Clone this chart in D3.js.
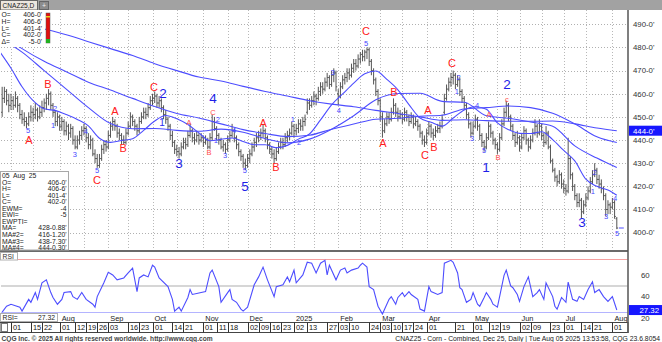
<!DOCTYPE html>
<html><head><meta charset="utf-8">
<script src="https://cdn.jsdelivr.net/npm/d3@7/dist/d3.min.js"></script>
<style>
html,body{margin:0;padding:0;background:#fff;}
svg{display:block;font-family:"Liberation Sans",Arial,sans-serif;}
text{white-space:pre;}
</style></head><body>
<svg id="chart" width="662" height="342"></svg>
<script>
// ---- trading calendar (CBOT corn, daily sessions) ----
const firstSession = '2024-06-25';
const lastSession = '2025-08-05';
const holidays = ['2024-07-04','2024-09-02','2024-11-28','2024-12-25','2025-01-01','2025-01-09',
  '2025-01-20','2025-02-17','2025-04-18','2025-05-26','2025-06-19','2025-07-04'];

// ---- daily bars [open, high, low, close], cents/bu ----
const jun24 = [[452,463,450,458],[458,463,456,461],[461,462,455,457],[457,460,452,455]];
const jul24 = [
[455,460,453,457],[457,459,453,455],[455,461,454,458],[458,459,452,455],[455,456,449,451],
[451,453,447,449],[449,452,446,448],[448,450,445,447],[447,452,446,450],[450,455,448,452],
[452,454,448,451],[451,456,449,453],[453,454,448,450],[450,455,449,452],[452,457,450,454],
[454,458,452,456],[456,460,453,458],[458,462,455,460],[460,461,453,455],[455,456,450,452],
[452,453,446,448],[448,452,446,450]];
const aug24 = [
[450,451,444,446],[446,450,444,448],[448,449,442,444],[444,448,442,446],[446,447,440,443],
[443,447,441,445],[445,446,438,440],[440,442,436,437],[437,442,436,440],[440,444,438,442],
[442,446,440,444],[444,447,442,445],[445,446,439,441],[441,443,436,438],[438,442,436,440],
[440,441,433,434],[434,436,430,432],[432,434,428,429],[429,434,428,432],[432,438,431,436],
[436,440,434,438],[438,440,435,437]];
const sep24 = [
[437,444,436,442],[442,448,441,446],[446,450,444,448],[448,449,444,446],[446,447,441,443],
[443,445,440,442],[442,443,438,440],[440,442,438,439],[439,445,438,443],[443,448,442,446],
[446,452,445,450],[450,451,446,448],[448,449,444,446],[446,447,442,444],[444,450,443,448],
[448,452,447,450],[450,454,449,452],[452,454,449,451],[451,456,450,454],[454,459,453,457]];
const oct24 = [
[457,460,455,458],[458,461,456,459],[459,460,454,456],[456,459,454,457],[457,458,452,454],
[454,455,449,451],[451,453,447,449],[449,450,444,446],[446,447,440,442],[442,444,437,439],
[439,440,434,436],[436,438,433,435],[435,437,432,434],[434,439,433,437],[437,441,436,439],
[439,441,436,438],[438,444,437,442],[442,447,441,444],[444,445,439,441],[441,443,438,440],
[440,444,439,442],[442,443,438,440],[440,443,439,441]];
const nov24 = [
[441,442,437,439],[439,442,438,440],[440,441,436,437],[437,443,436,441],[441,451,440,448],
[448,450,444,445],[445,446,440,442],[442,443,438,440],[440,441,436,437],[437,440,435,438],
[438,439,434,436],[436,442,435,440],[440,444,439,442],[442,447,441,444],[444,445,439,441],
[441,442,436,438],[438,439,433,435],[435,436,431,433],[433,434,428,430],[430,432,427,429]];
const dec24 = [
[429,434,428,432],[432,436,430,434],[434,439,433,437],[437,441,435,439],[439,443,437,441],
[441,444,439,442],[442,445,440,443],[443,447,441,444],[444,445,439,441],[441,442,436,438],
[438,439,434,436],[436,437,432,434],[434,436,430,432],[432,437,431,435],[435,439,434,437],
[437,441,436,439],[439,441,436,438],[438,443,437,441],[441,444,439,442],[442,445,440,443],
[443,448,442,446]];
const jan25 = [
[446,447,441,444],[444,447,442,445],[445,449,443,447],[447,449,444,446],[446,450,444,448],
[448,451,446,449],[452,458,451,456],[456,458,453,455],[455,459,454,457],[457,461,455,459],
[459,460,455,458],[458,463,457,461],[461,465,459,463],[463,465,460,462],[462,467,461,465],
[465,469,463,467],[467,468,462,464],[464,470,463,468],[468,471,465,469],[469,470,461,463]];
const feb25 = [
[460,462,455,459],[459,465,458,463],[463,468,462,466],[466,469,464,467],[467,471,465,469],
[469,471,466,468],[468,473,467,471],[471,475,469,473],[473,475,470,472],[472,477,471,475],
[475,478,473,477],[477,479,474,476],[476,479,474,478],[478,480,475,479],[479,480,472,474],
[474,475,468,470],[470,471,464,466],[466,467,459,461],[461,462,455,457]];
const mar25 = [
[457,458,448,450],[450,452,441,444],[444,449,443,447],[447,452,446,450],[450,452,447,449],
[449,454,448,452],[452,458,451,455],[455,456,450,452],[452,454,448,450],[450,453,449,451],
[451,452,447,449],[449,454,448,452],[452,453,448,450],[450,451,446,448],[448,452,447,450],
[450,451,445,447],[447,450,446,448],[448,449,444,446],[446,447,441,443],[443,444,438,440],
[440,442,437,439]];
const apr25 = [
[439,445,438,443],[443,448,442,446],[446,447,441,443],[443,445,440,442],[442,446,441,444],
[444,447,443,445],[445,448,443,446],[446,451,445,449],[452,460,451,458],[458,464,457,462],
[462,467,461,465],[465,469,463,467],[467,470,464,468],[468,469,462,464],[464,468,463,466],
[466,467,459,461],[461,462,456,458],[458,459,453,455],[455,456,449,451],[451,452,445,447],
[447,448,441,443]];
const may25 = [
[443,448,442,446],[446,451,445,449],[449,450,444,446],[446,447,440,442],[442,443,437,439],
[439,440,435,437],[437,443,436,441],[441,448,440,446],[446,447,441,443],[443,444,438,440],
[440,441,436,438],[438,439,434,436],[436,443,435,441],[441,449,440,447],[447,454,446,452],
[452,457,450,455],[455,456,448,450],[450,451,444,446],[446,447,440,442],[442,443,437,439],
[439,444,438,441]];
const jun25 = [
[441,442,435,437],[437,443,436,441],[441,446,440,444],[444,445,438,440],[440,441,435,437],
[437,442,436,440],[440,445,439,443],[443,449,442,446],[446,447,441,443],[443,449,442,446],
[446,447,440,442],[442,443,437,439],[439,446,438,443],[443,444,436,437],[437,438,430,431],
[431,432,426,427],[427,428,422,424],[424,425,420,422],[422,427,421,425],[425,426,419,421]];
const jul25 = [
[421,423,417,419],[419,421,416,418],[418,441,417,432],[432,433,423,425],[425,426,418,420],
[420,421,414,416],[416,417,411,413],[413,417,411,414],[414,415,406,409],[409,414,408,412],
[412,417,411,415],[415,420,414,418],[418,424,417,422],[422,427,421,425],[425,430,424,427],
[427,428,421,423],[423,425,419,421],[421,423,417,419],[419,420,414,416],[416,417,407,410],
[410,414,408,412],[412,413,408,411]];
const aug25 = [[411,415,410,413],[413,414,406,407],[406,406.75,401.5,402]];

// ---- moving averages, sampled by session number (0 = 2024-07-01) ----
const fastAt = [-5,0,5,10,15,20,25,30,35,40,45,50,55,60,65,70,75,80,85,90,95,100,105,110,115,120,125,130,135,140,
  145,150,155,160,165,170,175,180,185,190,195,200,205,210,215,220,225,230,235,240,245,250,255,260,265,270,274];
const maFast = [478,471,463,457,453.5,452.7,451,448.9,446.1,440.8,439,439.8,440.6,444.2,448.2,450.6,449.2,446.7,443.1,439.7,
  440.3,440.9,439.4,438,438,436.7,437.7,440.4,442.6,448.7,455.2,459.9,464.6,468.6,469.8,466.2,461.7,455.3,449.5,447.7,
  446,449.5,453,454.4,453.3,447.4,444.5,442.9,442.8,443.6,440.2,435.5,431,423.1,420,418.4,416.15];
const slowAt = [-5,5,15,25,35,45,55,65,75,85,95,105,115,125,135,145,155,165,175,185,195,205,215,225,235,245,255,265,274];
const ma50 = [484,478,470,462,454,447.1,444.9,445,444.2,443.8,444.7,443.4,440.6,438.8,440.4,444.7,450.5,457.4,460.1,460.2,
  456.7,456.3,450.5,449.4,447.8,446,437.5,432.2,428.11];
const ma100 = [486,479.5,474,469.5,465,461.6,458,454.5,451.5,449.5,447,444.5,442.8,441.5,442.1,444.7,446.9,449,449.4,450.3,
  450.7,453.4,454,454.7,454,451.6,447,441.4,438.9125];
const ma200 = [492,490.3,488,485.5,482.5,479.5,476.5,473,470,467.2,465.5,463.2,461,459,457,455.5,454.4,452.8,451.5,450,
  448.5,448.8,448.4,448.1,448.1,448.2,447,445.2,444.0375];

// ---- RSI turning points ----
const rsiAt = [-4,-2,0,4,5,8,9,11,12,14,16,18,19,21,23,24,27,28,30,32,34,37,38,39,42,44,46,48,51,53,55,57,58,60,62,64,65,67,71,73,
  74,76,77,80,81,82,84,86,88,90,91,94,95,98,99,100,102,104,105,107,110,112,114,116,119,120,123,125,126,128,129,132,134,136,138,140,142,143,144,147,
  149,151,152,154,157,158,159,161,162,164,166,168,171,172,174,175,177,178,180,181,184,185,187,189,190,193,195,196,199,200,202,203,204,206,208,209,211,212,214,215,
  217,218,220,221,223,224,226,227,229,230,232,234,236,238,239,241,242,245,246,247,249,251,252,254,256,257,259,261,263,264,266,268,270,272,274];
const rsiVal = [25.4,31,32.8,30,26.3,37.4,34.6,43.8,37.4,53,55.8,43.8,39.2,32.8,37.4,43.8,44.7,40,37.4,43.8,37.4,32.8,30,40,53,63,60.4,55.8,57.6,62.3,
  66.9,44.7,57.6,60.4,58.6,69.6,67.8,57.6,49.4,37.4,26.3,30,26.3,39.2,46.6,42,42.9,43.8,44.7,62.3,65,49.4,34.6,43.8,46.6,37.4,34.6,28.2,26.3,30,
  51.2,58.6,67.8,55.8,40,49.4,51.2,58.6,54,65,53,60.4,72.4,71.5,62.3,71.5,74.2,60.4,69.6,55.8,65,66.9,62.3,65,66.9,69.6,71.5,67.8,49.4,46.6,
  30.9,23.5,37.4,40,32.8,39.2,43.8,40,44.7,42,37.4,28.2,26.3,49.4,44.7,42,43.8,71.5,74.2,72.4,62.3,48.4,46.6,34.6,37.4,43.8,32.8,30.9,39.2,43.8,
  37.4,32.8,30,40,60,65,50,48.4,42,35.5,49.4,58.6,40,43.8,46.6,37.4,53,40,30.9,28.2,39.2,34.6,53.7,37.4,35.5,40,37.4,46.6,54,43.8,46.6,40,35.5,40,27.32];
const rsiLevels = [75, 50, 25];
const rsiTicks = [60, 40, 20];

// ---- Elliott wave marks: [session, price, text] ----
const waveMajor = [[68.7,460.3,'2'],[76,430.1,'3'],[91.4,458,'4'],[105.8,420.2,'5'],[214.8,428.5,'1'],[224.3,464,'2'],[258.3,404.6,'3']];
const waveMid = [[68.3,447.8,'1']];
const waveMinor = [[7.7,444.3,'5'],[19.9,453.8,'2'],[19,446.5,'1'],[28.9,434,'3'],[33.9,443.9,'4'],[38.9,427.1,'5'],
  [93.6,449.1,'2'],[92.7,440,'1'],[96.8,433.5,'3'],[100.9,444.3,'4'],[105.8,426.8,'5'],[127.5,449.1,'1'],[130.3,439.2,'2'],
  [145.6,469.4,'3'],[148.3,453,'4'],[160.6,481.6,'5'],[201.7,461.2,'1'],[202.4,467,'2'],[208.5,440.9,'3'],[210.8,455.1,'4'],
  [214,435.6,'5'],[264.1,426.2,'2'],[263.2,418,'1'],[269.1,407.2,'3'],[273.2,415,'4'],[274.1,399.8,'5']];
const corrMajor = [[8.1,440,'A'],[16.7,464.2,'B'],[38.9,422.7,'C'],[47,452.5,'A'],[50.7,436.6,'B'],[64.7,462.9,'C'],
  [114,447.4,'A'],[119.8,428.4,'B'],[160.6,487.2,'C'],[168.2,438.7,'A'],[173.2,460.8,'B'],[187.2,433.5,'C'],
  [188.6,453,'A'],[191.3,437,'B'],[199.5,473.3,'C']];
const corrMinor = [[80.5,447.8,'A'],[89.6,434.8,'B'],[91.4,452.2,'C'],[216.2,451.3,'A'],[220.3,432.7,'B'],[224.3,457.6,'c']];

// ---- axis labels ----
const priceTicks = [400,410,420,430,440,450,460,470,480,490];
const dayTicks = ['2024-07-01','2024-07-15','2024-07-22','2024-08-01','2024-08-12','2024-08-19','2024-08-26',
  '2024-09-03','2024-09-16','2024-09-23','2024-10-01','2024-10-14','2024-10-21','2024-11-01','2024-11-11','2024-11-18',
  '2024-12-02','2024-12-09','2024-12-16','2024-12-23','2025-01-02','2025-01-13','2025-01-27','2025-02-03','2025-02-10',
  '2025-02-24','2025-03-03','2025-03-10','2025-03-17','2025-03-24','2025-04-01','2025-04-21','2025-05-01','2025-05-12',
  '2025-05-19','2025-06-02','2025-06-09','2025-06-23','2025-07-01','2025-07-14','2025-07-21','2025-08-01'];
const monthLabels = [['2024-08','Aug'],['2024-09','Sep'],['2024-10','Oct'],['2024-11','Nov'],['2024-12','Dec'],['2025-01','2025'],
  ['2025-02','Feb'],['2025-03','Mar'],['2025-04','Apr'],['2025-05','May'],['2025-06','Jun'],['2025-07','Jul'],['2025-08','Aug']];
const studyText = [['EWM=','-4'],['EWI=','-5'],['EWPTI=','']];
const titleText = 'CNAZ25 - Corn - Combined, Dec 25, Daily | Tue Aug 05 2025 13:53:58, CQG 23.6.8054';
const copyText = 'CQG Inc. \u00a9 2025 All rights reserved worldwide. http://www.cqg.com';

// ---- build session list ----
const sessions = [];
{
  const hol = new Set(holidays);
  let t = Date.parse(firstSession + 'T00:00:00Z');
  const end = Date.parse(lastSession + 'T00:00:00Z');
  while (t <= end) {
    const d = new Date(t), wd = d.getUTCDay(), iso = d.toISOString().slice(0, 10);
    if (wd > 0 && wd < 6 && !hol.has(iso)) sessions.push(iso);
    t += 86400000;
  }
}
const OFFSET = 4; // sessions before 2024-07-01
const sessionOf = iso => { let i = sessions.findIndex(s => s >= iso); return i - OFFSET; };

const bars = [].concat(jun24, jul24, aug24, sep24, oct24, nov24, dec24, jan25, feb25, mar25, apr25, may25, jun25, jul25, aug25)
  .map((r, i) => ({ s: i - OFFSET, o: r[0], h: r[1], l: r[2], c: r[3] }));

// ---- layout ----
const axisX = 628;
const mainTop = 10, mainBottom = 250, rsiTop = 252.5, rsiBottom = 321;
const x = d3.scaleLinear().domain([-4, 274]).range([2.16, 616.8]);
const y = d3.scaleLinear().domain([400, 490]).range([232.65, 24.3]);
const yr = d3.scaleLinear().domain([20, 80]).range([317.8, 254.2]);
const BLUE = '#4d4dff';

const svg = d3.select('#chart');
svg.append('rect').attr('width', 662).attr('height', 342).attr('fill', '#fff');
const defs = svg.append('defs');
defs.append('clipPath').attr('id', 'cm').append('rect').attr('x', 1).attr('y', mainTop).attr('width', axisX - 1.5).attr('height', mainBottom - mainTop);
defs.append('clipPath').attr('id', 'cr').append('rect').attr('x', 1).attr('y', rsiTop).attr('width', axisX - 1.5).attr('height', rsiBottom - rsiTop);

// grid
const gMain = svg.append('g').attr('clip-path', 'url(#cm)');
gMain.selectAll('line.hg').data(priceTicks).join('line')
  .attr('x1', 1).attr('x2', axisX).attr('y1', d => Math.round(y(d)) + 0.5).attr('y2', d => Math.round(y(d)) + 0.5)
  .attr('stroke', '#b0b0b0').attr('stroke-dasharray', '1,2');
const gridSessions = [];
['2024-07','2024-08','2024-09','2024-10','2024-11','2024-12','2025-01','2025-02','2025-03','2025-04','2025-05','2025-06','2025-07','2025-08']
  .forEach(m => { ['-01', '-16'].forEach(dd => { const s = sessionOf(m + dd); if (s >= -4 && sessions[s + OFFSET] && sessions[s + OFFSET].slice(0, 7) === m) gridSessions.push(s); }); });
gMain.selectAll('line.vg').data(gridSessions).join('line')
  .attr('x1', d => Math.round(x(d)) + 0.5).attr('x2', d => Math.round(x(d)) + 0.5).attr('y1', mainTop).attr('y2', mainBottom)
  .attr('stroke', '#b8b8b8').attr('stroke-dasharray', '1,2');

// OHLC bars
let barPath = '';
bars.forEach(b => {
  const cx = x(b.s);
  barPath += `M${cx},${y(b.h)}V${y(b.l)}M${cx - 1.2},${y(b.o)}H${cx}M${cx},${y(b.c)}H${cx + 1.2}`;
});
gMain.append('path').attr('d', barPath).attr('fill', 'none').attr('stroke', '#555').attr('stroke-width', 1);

// moving averages
const maLine = d3.line().x(d => x(d[0])).y(d => y(d[1])).curve(d3.curveMonotoneX);
[[fastAt, maFast], [slowAt, ma50], [slowAt, ma100], [slowAt, ma200]].forEach(([at, v]) => {
  gMain.append('path').attr('d', maLine(at.map((s, i) => [s, v[i]])))
    .attr('fill', 'none').attr('stroke', BLUE).attr('stroke-width', 1.1);
});
// last close marker
const last = bars[bars.length - 1];
gMain.append('line').attr('x1', x(last.s) + 2).attr('x2', x(last.s) + 7).attr('y1', y(last.c)).attr('y2', y(last.c))
  .attr('stroke', BLUE).attr('stroke-width', 1.2);

// wave labels
function marks(list, size, color) {
  gMain.append('g').selectAll('text').data(list).join('text')
    .attr('x', d => x(d[0])).attr('y', d => y(d[1]) + size * 0.36)
    .attr('text-anchor', 'middle').attr('font-size', size).attr('fill', color).text(d => d[2]);
}
marks(waveMinor, 7.5, '#4646ff');
marks(corrMinor, 7.5, '#ff4a4a');
marks(waveMid, 10, '#2a2af0');
marks(corrMajor, 11, '#ff2020');
marks(waveMajor, 13.5, '#1e1ee8');

// panel separator
svg.append('rect').attr('x', 0).attr('y', 250).attr('width', axisX).attr('height', 2).attr('fill', '#6a6a6a');

// RSI panel
const gR = svg.append('g').attr('clip-path', 'url(#cr)');
const lvlColor = { 75: '#f4a0a0', 50: '#c8c8c8', 25: '#b4b4ff' };
gR.selectAll('line.lv').data(rsiLevels).join('line')
  .attr('x1', 1).attr('x2', axisX).attr('y1', d => yr(d)).attr('y2', d => yr(d))
  .attr('stroke', d => lvlColor[d]).attr('stroke-width', d => d === 50 ? 1.5 : 1);
gR.append('path').attr('d', d3.line().x(d => x(d[0])).y(d => yr(d[1]))(rsiAt.map((s, i) => [s, rsiVal[i]])))
  .attr('fill', 'none').attr('stroke', BLUE).attr('stroke-width', 1.1);
svg.append('rect').attr('x', 0.5).attr('y', 252.5).attr('width', 17).attr('height', 7.5).attr('fill', '#fff').attr('stroke', '#b0b0b0');
svg.append('text').attr('x', 2.5).attr('y', 258.8).attr('font-size', 6.8).attr('fill', '#333').text('RSI');
svg.append('rect').attr('x', 0.5).attr('y', 313.5).attr('width', 57).attr('height', 8).attr('fill', '#fff').attr('stroke', '#b0b0b0');
svg.append('text').attr('x', 2.5).attr('y', 320).attr('font-size', 6.8).attr('fill', '#222').text('RSI=');
svg.append('text').attr('x', 55).attr('y', 320).attr('text-anchor', 'end').attr('font-size', 6.8).attr('fill', '#222')
  .text(rsiVal[rsiVal.length - 1].toFixed(2));

// month labels
svg.append('g').selectAll('text').data(monthLabels).join('text')
  .attr('x', d => x(sessionOf(d[0] + '-01')) + 2).attr('y', 321.3).attr('font-size', 7.4).attr('fill', '#222').text(d => d[1]);

// date strip
svg.append('rect').attr('x', 0).attr('y', 322.5).attr('width', axisX).attr('height', 10).attr('fill', '#fff').attr('stroke', '#444');
svg.append('rect').attr('x', 1.5).attr('y', 323.5).attr('width', 6).attr('height', 8).attr('fill', '#fff').attr('stroke', '#777');
const gD = svg.append('g');
gD.selectAll('line').data(dayTicks).join('line')
  .attr('x1', d => Math.round(x(sessionOf(d))) + 0.5).attr('x2', d => Math.round(x(sessionOf(d))) + 0.5)
  .attr('y1', 322.5).attr('y2', 332.5).attr('stroke', '#333');
gD.selectAll('text').data(dayTicks).join('text')
  .attr('x', d => Math.round(x(sessionOf(d))) + 2).attr('y', 330.4).attr('font-size', 7.4).attr('fill', '#111')
  .text(d => d.slice(8, 10));

// right axis
svg.append('line').attr('x1', axisX).attr('x2', axisX).attr('y1', mainTop).attr('y2', 333).attr('stroke', '#555').attr('stroke-width', 1.5);
const fmtPrice = v => { const w = Math.floor(v); return `${w}-${Math.round((v - w) * 8)}'`; };
const fmtMA = v => { const w = Math.floor(v); return `${w}-${((v - w) * 8).toFixed(2)}'`; };
svg.append('g').selectAll('text').data(priceTicks).join('text')
  .attr('x', 633).attr('y', d => y(d) + 2.8).attr('font-size', 7.8).attr('fill', '#333').text(d => fmtPrice(d));
const ma200Last = ma200[ma200.length - 1];
svg.append('rect').attr('x', 629).attr('y', y(ma200Last) - 5).attr('width', 33).attr('height', 10).attr('fill', '#1616ff');
svg.append('text').attr('x', 633).attr('y', y(ma200Last) + 2.8).attr('font-size', 7.8).attr('fill', '#fff').text(fmtPrice(ma200Last));
svg.append('g').selectAll('text').data(rsiTicks).join('text')
  .attr('x', 641).attr('y', d => yr(d) + 2.8).attr('font-size', 7.8).attr('fill', '#333').text(d => d);
const rsiLast = rsiVal[rsiVal.length - 1];
svg.append('rect').attr('x', 629).attr('y', yr(rsiLast) - 5).attr('width', 33).attr('height', 10).attr('fill', '#1616ff');
svg.append('text').attr('x', 659).attr('y', yr(rsiLast) + 2.8).attr('text-anchor', 'end').attr('font-size', 7.8).attr('fill', '#fff').text(rsiLast.toFixed(2));

// top bar with tab
svg.append('rect').attr('x', 0).attr('y', 0).attr('width', 662).attr('height', 10).attr('fill', '#a2a2a2');
svg.append('rect').attr('x', 0.5).attr('y', 0.5).attr('width', 37).attr('height', 9.5).attr('fill', '#ece6de').attr('stroke', '#666');
svg.append('text').attr('x', 2.5).attr('y', 8).attr('font-size', 6.6).attr('fill', '#222').text('CNAZ25,D');
svg.append('rect').attr('x', 39.5).attr('y', 1.5).attr('width', 9).attr('height', 8).attr('fill', '#8c8c8c').attr('stroke', '#666');
svg.append('text').attr('x', 44).attr('y', 8).attr('text-anchor', 'middle').attr('font-size', 7).attr('fill', '#eee').text('+');

// top-left quote box
const prev = bars[bars.length - 2];
const quoteRows = [['O=', fmtPrice(last.o)], ['H=', fmtPrice(last.h)], ['L=', fmtPrice(last.l)], ['C=', fmtPrice(last.c)],
  ['\u0394=', '-' + fmtPrice(prev.c - last.c)]];
svg.append('rect').attr('x', 0).attr('y', 10).attr('width', 45).attr('height', 37).attr('fill', '#fff');
const gQ = svg.append('g').attr('font-size', 6.8).attr('fill', '#222');
quoteRows.forEach((r, i) => {
  gQ.append('text').attr('x', 1.5).attr('y', 17.3 + i * 6.6).text(r[0]);
  gQ.append('text').attr('x', 42).attr('y', 17.3 + i * 6.6).attr('text-anchor', 'end').text(r[1]);
});
svg.append('rect').attr('x', 46).attr('y', 13).attr('width', 4).attr('height', 30).attr('fill', '#e01010').attr('stroke', '#555').attr('stroke-width', 0.5);
svg.append('rect').attr('x', 46).attr('y', 39).attr('width', 4).attr('height', 4).attr('fill', '#22b022');
svg.append('rect').attr('x', 46).attr('y', 16).attr('width', 4).attr('height', 1.5).attr('fill', '#e8d020');

// bottom-left study box
const boxRows = [['05  Aug  25', ''], ['O=', fmtPrice(last.o)], ['H=', fmtPrice(last.h)], ['L=', fmtPrice(last.l)], ['C=', fmtPrice(last.c)]]
  .concat(studyText)
  .concat([['MA=', fmtMA(ma50[ma50.length - 1])], ['MA#2=', fmtMA(maFast[maFast.length - 1])],
           ['MA#3=', fmtMA(ma100[ma100.length - 1])], ['MA#4=', fmtMA(ma200Last)]]);
svg.append('rect').attr('x', 0.5).attr('y', 171.5).attr('width', 68).attr('height', 78.5).attr('fill', '#fff').attr('stroke', '#a8a8a8');
const gB = svg.append('g').attr('font-size', 6.8).attr('fill', '#222');
boxRows.forEach((r, i) => {
  gB.append('text').attr('x', 2).attr('y', 178 + i * 6.55).text(r[0]);
  gB.append('text').attr('x', 66.5).attr('y', 178 + i * 6.55).attr('text-anchor', 'end').text(r[1]);
});

// footer
svg.append('text').attr('x', 1.5).attr('y', 340.5).attr('font-size', 6.6).attr('font-weight', 'bold').attr('fill', '#444').text(copyText);
svg.append('text').attr('x', 660).attr('y', 340.5).attr('text-anchor', 'end').attr('font-size', 6.8).attr('fill', '#222').text(titleText);
</script>
</body></html>
